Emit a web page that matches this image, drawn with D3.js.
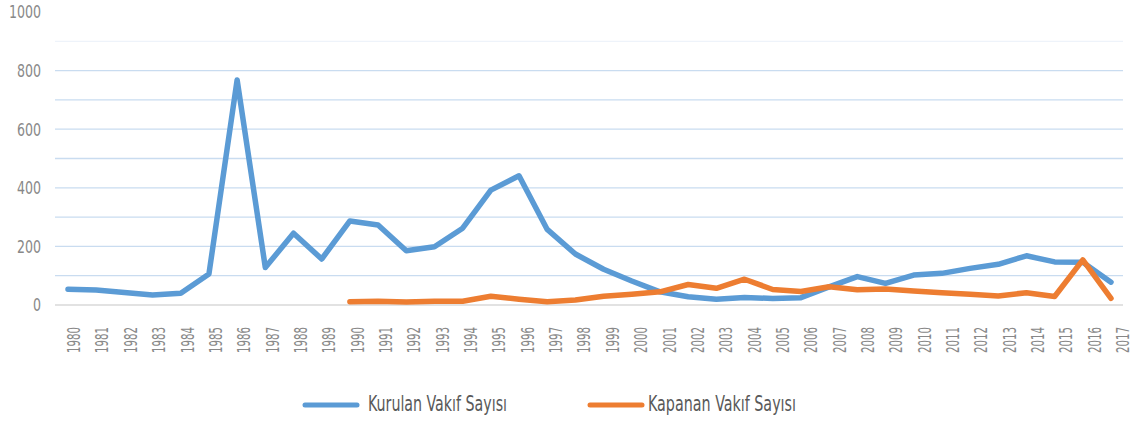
<!DOCTYPE html>
<html lang="tr">
<head>
    <meta charset="UTF-8">
    <title>Kurulan ve Kapanan Vakıf Sayısı</title>
    <script src="https://d3js.org/d3.v7.js"></script>
    <style>
        body {
            margin: 0;
            background: #fff;
        }
        text {
            font-family: "Liberation Sans Narrow", "DejaVu Sans Condensed", "Roboto", sans-serif;
            fill: #888888;
        }
    </style>
</head>
<body>
    <svg id="chart"></svg>

    <script>
        const width = 1141;
        const height = 423;

        // Data
        const years = [1980, 1981, 1982, 1983, 1984, 1985, 1986, 1987, 1988, 1989,
                       1990, 1991, 1992, 1993, 1994, 1995, 1996, 1997, 1998, 1999,
                       2000, 2001, 2002, 2003, 2004, 2005, 2006, 2007, 2008, 2009,
                       2010, 2011, 2012, 2013, 2014, 2015, 2016, 2017];
        const kurulan = [54, 51, 43, 34, 40, 106, 768, 128, 245, 157,
                         287, 273, 185, 199, 262, 392, 441, 258, 174, 122,
                         82, 45, 28, 20, 26, 22, 25, 62, 97, 74,
                         102, 108, 125, 139, 168, 147, 146, 78];
        const kapanan = [null, null, null, null, null, null, null, null, null, null,
                         11, 13, 10, 13, 13, 30, 20, 11, 17, 30,
                         37, 45, 70, 57, 88, 53, 46, 62, 52, 55,
                         48, 42, 37, 31, 42, 29, 154, 23];
        const yTicks = [0, 200, 400, 600, 800, 1000];
        const gridValues = [100, 200, 300, 400, 500, 600, 700, 800, 900];
        const seriesNames = ["Kurulan Vakıf Sayısı", "Kapanan Vakıf Sayısı"];
        const seriesColors = ["#5b9bd5", "#ed7d31"];

        const svg = d3.select("#chart")
            .attr("width", width)
            .attr("height", height);

        // Scales
        const x = d3.scalePoint().domain(years).range([68, 1111]);
        const xLabel = d3.scalePoint().domain(years).range([74, 1123]);
        const y = d3.scaleLinear().domain([0, 1000]).range([305, 12]);

        // Gridlines
        svg.append("g")
            .selectAll("line")
            .data(gridValues)
            .enter()
            .append("line")
            .attr("x1", 55)
            .attr("x2", 1123)
            .attr("y1", d => y(d))
            .attr("y2", d => y(d))
            .attr("stroke", d => d === 900 ? "#eef3fa" : "#c9dcf0")
            .attr("stroke-width", 1.3);

        // baseline
        svg.append("line")
            .attr("x1", 55)
            .attr("x2", 1123)
            .attr("y1", y(0))
            .attr("y2", y(0))
            .attr("stroke", "#d9d9d9")
            .attr("stroke-width", 1.5);

        // Y labels
        svg.append("g")
            .selectAll("text")
            .data(yTicks)
            .enter()
            .append("text")
            .attr("x", 41)
            .attr("y", d => y(d))
            .attr("dy", "0.36em")
            .attr("text-anchor", "end")
            .attr("font-size", 18)
            .attr("textLength", d => String(d).length * 8)
            .attr("lengthAdjust", "spacingAndGlyphs")
            .text(d => d);

        // X labels
        svg.append("g")
            .selectAll("text")
            .data(years)
            .enter()
            .append("text")
            .attr("transform", d => `translate(${xLabel(d)},327) rotate(-90)`)
            .attr("dy", "0.36em")
            .attr("text-anchor", "end")
            .attr("font-size", 17)
            .attr("textLength", 26)
            .attr("lengthAdjust", "spacingAndGlyphs")
            .text(d => d);

        // Lines
        const line = d3.line()
            .defined(d => d.v != null)
            .x(d => x(d.year))
            .y(d => y(d.v));

        [kurulan, kapanan].forEach((values, i) => {
            svg.append("path")
                .datum(years.map((year, j) => ({year, v: values[j]})))
                .attr("fill", "none")
                .attr("stroke", seriesColors[i])
                .attr("stroke-width", 5.5)
                .attr("stroke-linejoin", "round")
                .attr("stroke-linecap", "round")
                .attr("d", line);
        });

        // Legend
        const legendX = [305, 590];
        const legendWidths = [139, 148];
        seriesNames.forEach((name, i) => {
            const g = svg.append("g").attr("transform", `translate(${legendX[i]},405)`);
            g.append("line")
                .attr("x1", 0)
                .attr("x2", 52)
                .attr("stroke", seriesColors[i])
                .attr("stroke-width", 5)
                .attr("stroke-linecap", "round");
            g.append("text")
                .attr("x", 63 - i * 5)
                .attr("y", 6)
                .attr("font-size", 22)
                .attr("textLength", legendWidths[i])
                .attr("lengthAdjust", "spacingAndGlyphs")
                .style("fill", "#595959")
                .text(name);
        });
    </script>
</body>
</html>
